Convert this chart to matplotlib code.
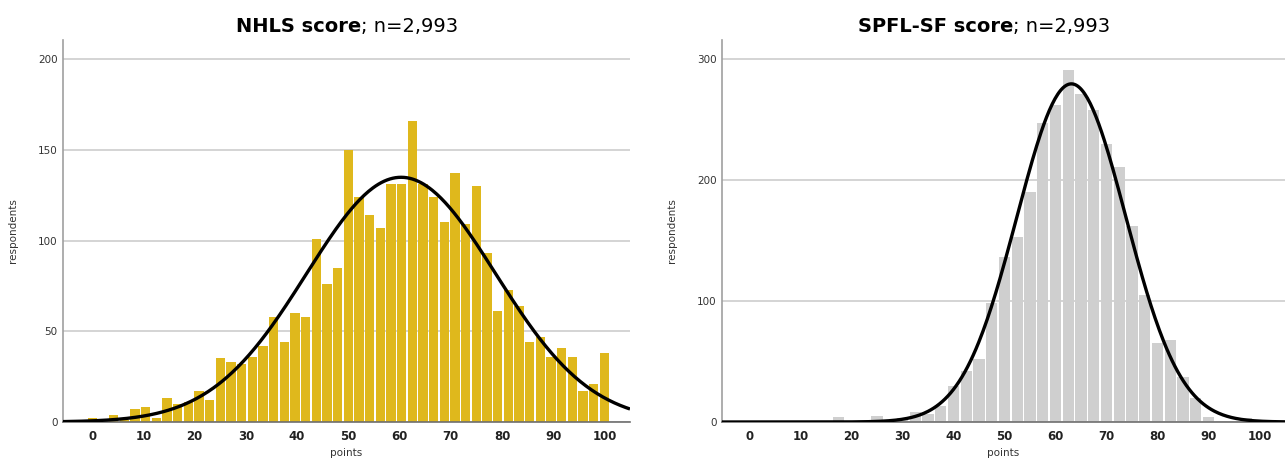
import matplotlib
matplotlib.use("Agg")
import matplotlib.pyplot as plt
import numpy as np

plt.rcParams.update({'font.family': 'DejaVu Sans'})

N = 2993

# NHLS: raw score 0-48 rescaled to 0-100, one bar per raw point
nhls_points = np.arange(49) * 100 / 48
nhls_counts = [2, 0, 4, 1, 7, 8, 2, 13, 10, 11,
               17, 12, 35, 33, 32, 36, 42, 58, 44, 60,
               58, 101, 76, 85, 150, 124, 114, 107, 131, 131,
               166, 131, 124, 110, 137, 109, 130, 93, 61, 73,
               64, 44, 47, 36, 41, 36, 17, 21, 38]

# SPFL-SF: raw score 0-40 rescaled to 0-100
spfl_points = np.arange(41) * 2.5
spfl_counts = [0, 0, 0, 0, 0, 0, 0, 4, 0, 0,
               5, 0, 3, 8, 7, 13, 30, 42, 52, 98,
               136, 153, 190, 247, 262, 291, 271, 258, 230, 211,
               162, 105, 65, 68, 37, 20, 4, 1, 0, 3, 0]

x_ticks = [0, 10, 20, 30, 40, 50, 60, 70, 80, 90, 100]

W, H = 1285, 459
fig = plt.figure(figsize=(W / 100, H / 100), dpi=100)


def px_axes(x0, x1, y_top, y_bot):
    return fig.add_axes([x0 / W, 1 - y_bot / H, (x1 - x0) / W, (y_bot - y_top) / H])


def draw_hist(ax, pts, counts, bw, color, yticks, ylim, xlim):
    pts = np.asarray(pts, float)
    counts = np.asarray(counts, float)
    ax.set_axisbelow(True)
    ax.yaxis.grid(True, color='#c9c9c9', linewidth=1.1)
    ax.bar(pts, counts, width=bw * 0.88, color=color, linewidth=0, zorder=2)
    # fitted normal curve from the histogram's own mean / sd
    mean = np.sum(pts * counts) / counts.sum()
    sd = np.sqrt(np.sum(counts * (pts - mean) ** 2) / (counts.sum() - 1))
    xs = np.linspace(xlim[0], xlim[1], 400)
    ys = N * bw * np.exp(-0.5 * ((xs - mean) / sd) ** 2) / (sd * np.sqrt(2 * np.pi))
    ax.plot(xs, ys, color='black', linewidth=2.4, zorder=3, solid_capstyle='butt')
    ax.set_xlim(*xlim)
    ax.set_ylim(*ylim)
    ax.set_yticks(yticks)
    ax.set_xticks(x_ticks)
    for s in ['top', 'right']:
        ax.spines[s].set_visible(False)
    ax.spines['left'].set_color('#a0a0a0')
    ax.spines['left'].set_linewidth(1.2)
    ax.spines['bottom'].set_color('#6e6e6e')
    ax.spines['bottom'].set_linewidth(1.2)
    ax.tick_params(axis='y', length=0, pad=4, labelsize=7.5, labelcolor='#333333')
    ax.tick_params(axis='x', length=0, pad=6, labelsize=8.5, labelcolor='#222222')
    for lab in ax.get_xticklabels():
        lab.set_fontweight('bold')
    ax.set_ylabel('respondents', fontsize=7.5, color='#333333', labelpad=14)
    ax.set_xlabel('points', fontsize=7.5, color='#333333', labelpad=3)


ax1 = px_axes(63, 630, 40, 422)
draw_hist(ax1, nhls_points, nhls_counts, 100 / 48, '#dfb81c',
          [0, 50, 100, 150, 200], (0, 210.5), (-5.7, 105.0))

ax2 = px_axes(722, 1285, 40, 422)
draw_hist(ax2, spfl_points, spfl_counts, 2.5, '#cfcfcf',
          [0, 100, 200, 300], (0, 315.5), (-5.4, 105.0))


def two_part_title(cx, cy, bold, rest, size=14):
    r = fig.canvas.get_renderer()
    t1 = fig.text(0, cy / H, bold, fontsize=size, fontweight='bold', va='center', ha='left')
    t2 = fig.text(0, cy / H, rest, fontsize=size, va='center', ha='left')
    w1 = t1.get_window_extent(r).width
    w2 = t2.get_window_extent(r).width
    start = cx - (w1 + w2) / 2
    t1.set_x(start / W)
    t2.set_x((start + w1) / W)
    t1.set_y(1 - cy / H)
    t2.set_y(1 - cy / H)


two_part_title(347, 26, 'NHLS score', '; n=2,993')
two_part_title(984, 26, 'SPFL-SF score', '; n=2,993')

fig.savefig('out.png', dpi=100)
